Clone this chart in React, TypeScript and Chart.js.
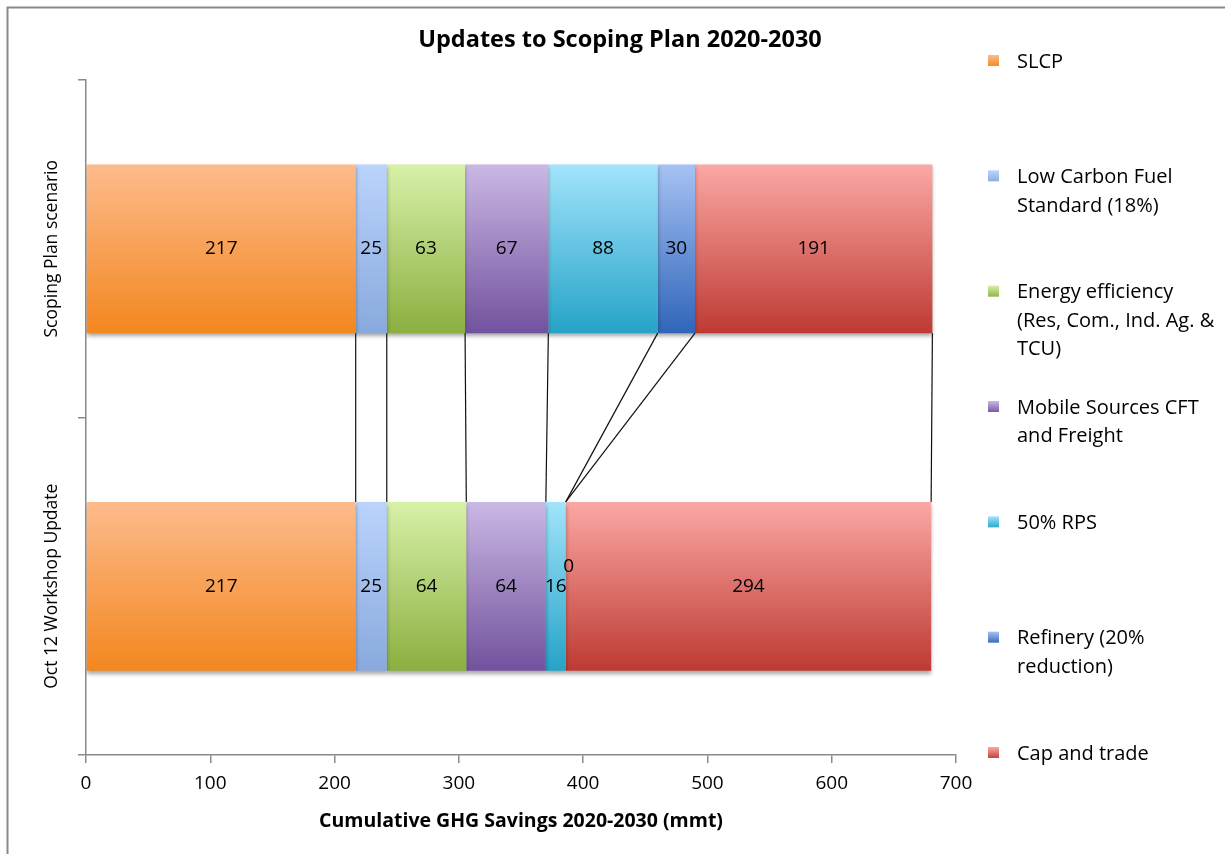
import React, { useEffect, useRef } from 'react';
import { Chart, registerables } from 'chart.js';

Chart.register(...registerables);

// ---------- data ----------
const categories = ['Scoping Plan scenario', 'Oct 12 Workshop Update'];
const seriesNames = [
  'SLCP',
  'Low Carbon Fuel Standard (18%)',
  'Energy efficiency (Res, Com., Ind. Ag. & TCU)',
  'Mobile Sources CFT and Freight',
  '50% RPS',
  'Refinery (20% reduction)',
  'Cap and trade',
];
const legendLines = [
  ['SLCP'],
  ['Low Carbon Fuel', 'Standard (18%)'],
  ['Energy efficiency', '(Res, Com., Ind. Ag. &', 'TCU)'],
  ['Mobile Sources CFT', 'and Freight'],
  ['50% RPS'],
  ['Refinery (20%', 'reduction)'],
  ['Cap and trade'],
];
const slcp = [217, 217];
const lowCarbonFuel = [25, 25];
const energyEfficiency = [63, 64];
const mobileSources = [67, 64];
const rps50 = [88, 16];
const refinery = [30, 0];
const capAndTrade = [191, 294];
const seriesValues = [slcp, lowCarbonFuel, energyEfficiency, mobileSources, rps50, refinery, capAndTrade];
const xMin = 0;
const xMax = 700;
const xStep = 100;
const chartTitle = 'Updates to Scoping Plan 2020-2030';
const xAxisTitle = 'Cumulative GHG Savings 2020-2030 (mmt)';

// ---------- styles ----------
const topColors = ['#FDBB8C', '#BAD4FC', '#D7F1A8', '#CAB8E4', '#A2E4FC', '#A6C2F3', '#FBA8A4'];
const bottomColors = ['#F3871F', '#89A9DD', '#8BAF40', '#72529E', '#25A3C7', '#3065BA', '#BE3A33'];
const FONT = '"Open Sans", sans-serif';
const W = 1225;
const H = 854;

function makeGradient(ctx: CanvasRenderingContext2D, y0: number, y1: number, i: number) {
  const g = ctx.createLinearGradient(0, y0, 0, y1);
  g.addColorStop(0, topColors[i]);
  g.addColorStop(1, bottomColors[i]);
  return g;
}

function barGeom(chart: any, index: number) {
  const y = chart.scales.y;
  const center = y.getPixelForValue(index);
  const band = (y.bottom - y.top) / categories.length;
  const half = (band * 0.5) / 2;
  return { center, half };
}

const overlayPlugin = {
  id: 'overlay',
  beforeDraw(chart: any) {
    const ctx = chart.ctx;
    ctx.save();
    ctx.fillStyle = '#ffffff';
    ctx.fillRect(0, 0, W, H);
    ctx.strokeStyle = '#8a8a8a';
    ctx.lineWidth = 2;
    ctx.beginPath();
    ctx.moveTo(7.5, H + 5);
    ctx.lineTo(7.5, 7.5);
    ctx.lineTo(W + 5, 7.5);
    ctx.stroke();
    ctx.restore();
  },
  beforeDatasetsDraw(chart: any) {
    const ctx = chart.ctx;
    ctx.save();
    ctx.shadowColor = 'rgba(0,0,0,0.35)';
    ctx.shadowBlur = 4;
    ctx.shadowOffsetY = 3;
  },
  afterDatasetsDraw(chart: any) {
    const ctx = chart.ctx;
    ctx.restore();
    const xs = chart.scales.x;
    // series lines
    const g0 = barGeom(chart, 0);
    const g1 = barGeom(chart, 1);
    ctx.save();
    ctx.strokeStyle = '#111';
    ctx.lineWidth = 1.2;
    let c0 = 0;
    let c1 = 0;
    for (let i = 0; i < seriesValues.length; i++) {
      c0 += seriesValues[i][0];
      c1 += seriesValues[i][1];
      ctx.beginPath();
      ctx.moveTo(xs.getPixelForValue(c0), g0.center + g0.half);
      ctx.lineTo(xs.getPixelForValue(c1), g1.center - g1.half);
      ctx.stroke();
    }
    ctx.restore();
    // data labels
    ctx.save();
    ctx.font = `19px ${FONT}`;
    ctx.fillStyle = '#000';
    ctx.textAlign = 'center';
    ctx.textBaseline = 'middle';
    chart.data.datasets.forEach((ds: any, di: number) => {
      const meta = chart.getDatasetMeta(di);
      meta.data.forEach((el: any, idx: number) => {
        const v = ds.data[idx];
        const cx = (el.x + el.base) / 2;
        let cy = el.y;
        let dx = 0;
        if (v === 0) {
          cy -= 20;
          dx = 3;
        }
        ctx.fillText(String(v), cx + dx, cy);
      });
    });
    ctx.restore();
  },
  afterDraw(chart: any) {
    const ctx = chart.ctx;
    const area = chart.chartArea;
    ctx.save();
    ctx.fillStyle = '#000';
    // title
    ctx.font = `bold 23.5px ${FONT}`;
    ctx.textAlign = 'center';
    ctx.textBaseline = 'middle';
    ctx.fillText(chartTitle, 620, 40);
    // x axis title
    ctx.font = `bold 19.5px ${FONT}`;
    ctx.fillText(xAxisTitle, (area.left + area.right) / 2, 821);
    // category labels (rotated)
    ctx.font = `17.5px ${FONT}`;
    categories.forEach((c, i) => {
      const { center } = barGeom(chart, i);
      ctx.save();
      ctx.translate(52, center);
      ctx.rotate(-Math.PI / 2);
      ctx.fillText(c, 0, 0);
      ctx.restore();
    });
    // legend
    ctx.textAlign = 'left';
    ctx.font = `20px ${FONT}`;
    const startY = 61;
    const step = (753 - 61) / (legendLines.length - 1);
    legendLines.forEach((lines, i) => {
      const y = startY + i * step;
      ctx.fillStyle = makeGradient(ctx, y - 6, y + 6, i);
      ctx.fillRect(988, y - 6, 11, 11);
      ctx.fillStyle = '#000';
      lines.forEach((t, li) => {
        ctx.fillText(t, 1017, y + 1 + li * 28.5);
      });
    });
    ctx.restore();
  },
};

export default function App() {
  const canvasRef = useRef<HTMLCanvasElement | null>(null);

  useEffect(() => {
    const canvas = canvasRef.current;
    if (!canvas) return;
    const datasets = seriesValues.map((vals, i) => ({
      label: seriesNames[i],
      data: vals,
      backgroundColor: (context: any) => {
        const chart = context.chart;
        if (!chart.chartArea || !chart.scales.y) return bottomColors[i];
        const { center, half } = barGeom(chart, context.dataIndex);
        return makeGradient(chart.ctx, center - half, center + half, i);
      },
      borderWidth: 0,
      barPercentage: 1,
      categoryPercentage: 0.5,
    }));

    const chart = new Chart(canvas, {
      type: 'bar',
      data: { labels: categories, datasets },
      options: {
        indexAxis: 'y',
        responsive: false,
        animation: false,
        devicePixelRatio: 1,
        layout: { padding: { left: 8, top: 80, right: W - 956, bottom: 0 } },
        plugins: {
          legend: { display: false },
          title: { display: false },
          tooltip: { enabled: false },
        },
        scales: {
          x: {
            stacked: true,
            min: xMin,
            max: xMax,
            ticks: {
              stepSize: xStep,
              color: '#000',
              font: { family: FONT, size: 19 },
              padding: 9,
            },
            grid: { drawOnChartArea: false, color: '#8a8a8a', tickLength: 8, lineWidth: 1.5 },
            border: { color: '#8a8a8a', width: 1.5 },
            afterFit: (s: any) => {
              s.height = H - 755;
            },
          },
          y: {
            stacked: true,
            ticks: { display: false },
            grid: { drawOnChartArea: false, color: '#8a8a8a', tickLength: 8, offset: true, lineWidth: 1.5 },
            border: { color: '#8a8a8a', width: 1.5 },
            afterFit: (s: any) => {
              s.width = 78;
            },
          },
        },
      },
      plugins: [overlayPlugin],
    });
    return () => chart.destroy();
  }, []);

  return (
    <div style={{ position: 'absolute', left: 0, top: 0, width: W, height: H }}>
      <canvas ref={canvasRef} width={W} height={H} style={{ display: 'block' }} />
    </div>
  );
}
